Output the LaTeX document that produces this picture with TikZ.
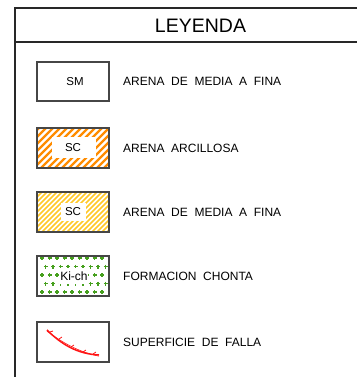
\documentclass[tikz,border=0pt]{standalone}
\usepackage{fontspec}
\setmainfont{Liberation Sans}[WordSpace=2]
\definecolor{frame}{RGB}{40,40,40}
\definecolor{boxline}{RGB}{70,70,70}
\definecolor{hatchA}{RGB}{255,140,0}
\definecolor{hatchB}{RGB}{255,200,40}
\definecolor{plusgreen}{RGB}{70,160,30}
\definecolor{fault}{RGB}{255,20,20}
\begin{document}
\begin{tikzpicture}[x=1pt,y=-1pt,
  frameline/.style={draw=frame,line width=1.3pt},
  legbox/.style={draw=boxline,line width=1.2pt},
  legtext/.style={anchor=west,inner sep=0pt,font=\fontsize{12}{14}\selectfont},
  boxtext/.style={inner sep=0pt,font=\fontsize{11.5}{13}\selectfont},
  whitepatch/.style={fill=white,draw=none}]
\useasboundingbox (0,0) rectangle (357,377);
% frame
\coordinate (tl) at (15,8);
\coordinate (tr) at (357,8);
\coordinate (ml) at (15,42);
\coordinate (mr) at (357,42);
\coordinate (bl) at (15,377);
\draw[frameline] (tr) -- (tl) -- (bl);
\draw[frameline] (ml) -- (mr);
\node[inner sep=0pt,font=\fontsize{19.5}{22}\selectfont] (title) at (200.5,26) {LEYENDA};

% box 1 SM
\node[legbox,minimum width=72pt,minimum height=39pt,inner sep=0pt] (b1) at (73,81.5) {};
\node[boxtext] (t1) at (75,81.5) {SM};
\node[legtext] (l1) at (123,81.5) {ARENA DE MEDIA A FINA};

% box 2 SC orange hatch
\begin{scope}
\clip (37,128) rectangle (109,168);
\foreach \c in {160,167,...,285}{
  \draw[hatchA,line width=2.4pt] (\c-168,168) -- (\c-128,128);
}
\fill[whitepatch] (52,137) rectangle (96,158);
\end{scope}
\node[legbox,minimum width=72pt,minimum height=40pt,inner sep=0pt] (b2) at (73,148) {};
\node[boxtext] (t2) at (b2.center) {SC};
\node[legtext] (l2) at (123,148) {ARENA ARCILLOSA};

% box 3 SC yellow hatch
\begin{scope}
\clip (37,192) rectangle (109,232);
\foreach \c in {224,229,...,345}{
  \draw[hatchB,line width=1.5pt] (\c-232,232) -- (\c-192,192);
}
\fill[whitepatch] (61,203) rectangle (86,221);
\end{scope}
\node[legbox,minimum width=72pt,minimum height=40pt,inner sep=0pt] (b3) at (73,212) {};
\node[boxtext] (t3) at (b3.center) {SC};
\node[legtext] (l3) at (123,212) {ARENA DE MEDIA A FINA};

% box 4 Ki-ch pluses
\begin{scope}
\clip (37,256) rectangle (109,296);
\foreach \r in {0,...,4}{
  \pgfmathsetmacro{\yy}{258+\r*8.5}
  \pgfmathsetmacro{\off}{mod(\r,2)*3.5}
  \foreach \k in {0,...,9}{
    \pgfmathsetmacro{\xx}{42+\off+\k*7.5}
    \draw[plusgreen,line width=1.2pt] (\xx-2,\yy) -- (\xx+2,\yy) (\xx,\yy-2) -- (\xx,\yy+2);
  }
}
\fill[whitepatch] (59,268) rectangle (88,284);
\end{scope}
\node[legbox,minimum width=72pt,minimum height=40pt,inner sep=0pt] (b4) at (73,276) {};
\node[boxtext,font=\fontsize{12}{14}\selectfont] (t4) at (74,276) {Ki-ch};
\node[legtext] (l4) at (123,276) {FORMACION CHONTA};

% box 5 fault
\node[legbox,minimum width=72pt,minimum height=40pt,inner sep=0pt] (b5) at (73,342) {};
\coordinate (f1) at (47,330);
\coordinate (f2) at (99,355);
\draw[fault,line width=1.5pt] (f1) .. controls (62,345) and (78,354) .. (f2);
\draw[fault,line width=0.6pt] ([yshift=-1.2pt]f1) .. controls (63,343) and (79,352) .. ([yshift=-1.2pt]f2);
\draw[fault,line width=0.8pt] (50,332) -- (53,331) (59,339) -- (62,337) (71,347) -- (74,345) (83,352) -- (86,350) (93,354) -- (96,352);
\node[legtext] (l5) at (123,342) {SUPERFICIE DE FALLA};
\end{tikzpicture}
\end{document}
